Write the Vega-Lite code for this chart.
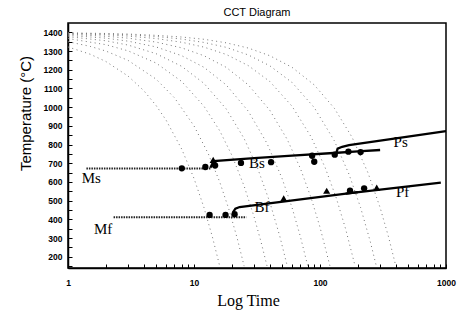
{
  "$schema": "https://vega.github.io/schema/vega-lite/v6.json",
  "autosize": {"type": "none"},
  "padding": {"left": 68, "top": 23, "right": 14, "bottom": 48},
  "width": 378,
  "height": 245,
  "background": "white",
  "title": {"text": "CCT Diagram", "font": "Liberation Sans", "fontSize": 11, "fontWeight": "normal", "color": "black", "offset": 5},
  "config": {
    "view": {"stroke": "black", "strokeWidth": 1.5},
    "axis": {"grid": false, "domainColor": "black", "domainWidth": 1.5, "tickColor": "black", "labelColor": "black", "labelFont": "Liberation Sans", "labelFontSize": 8.5, "labelFontWeight": "bold", "titleColor": "black"}
  },
  "datasets": {
    "cooling": [
      {"curve": "A", "t": 1, "T": 1322}, {"curve": "A", "t": 1.5, "T": 1283}, {"curve": "A", "t": 2, "T": 1244}, {"curve": "A", "t": 3, "T": 1166}, {"curve": "A", "t": 4, "T": 1088}, {"curve": "A", "t": 5, "T": 1009}, {"curve": "A", "t": 6, "T": 931}, {"curve": "A", "t": 8, "T": 775}, {"curve": "A", "t": 10, "T": 619}, {"curve": "A", "t": 12, "T": 463}, {"curve": "A", "t": 14, "T": 306}, {"curve": "A", "t": 16, "T": 150},
      {"curve": "B", "t": 1, "T": 1350}, {"curve": "B", "t": 1.5, "T": 1325}, {"curve": "B", "t": 2, "T": 1300}, {"curve": "B", "t": 3, "T": 1250}, {"curve": "B", "t": 5, "T": 1150}, {"curve": "B", "t": 7, "T": 1050}, {"curve": "B", "t": 10, "T": 900}, {"curve": "B", "t": 13, "T": 750}, {"curve": "B", "t": 16, "T": 600}, {"curve": "B", "t": 19, "T": 450}, {"curve": "B", "t": 22, "T": 300}, {"curve": "B", "t": 25, "T": 150},
      {"curve": "C", "t": 1, "T": 1367}, {"curve": "C", "t": 2, "T": 1334}, {"curve": "C", "t": 3, "T": 1301}, {"curve": "C", "t": 5, "T": 1236}, {"curve": "C", "t": 8, "T": 1137}, {"curve": "C", "t": 12, "T": 1005}, {"curve": "C", "t": 16, "T": 874}, {"curve": "C", "t": 20, "T": 742}, {"curve": "C", "t": 25, "T": 578}, {"curve": "C", "t": 30, "T": 413}, {"curve": "C", "t": 34, "T": 281}, {"curve": "C", "t": 38, "T": 150},
      {"curve": "D", "t": 1, "T": 1377}, {"curve": "D", "t": 2, "T": 1355}, {"curve": "D", "t": 3, "T": 1332}, {"curve": "D", "t": 5, "T": 1286}, {"curve": "D", "t": 8, "T": 1218}, {"curve": "D", "t": 12, "T": 1127}, {"curve": "D", "t": 18, "T": 991}, {"curve": "D", "t": 25, "T": 832}, {"curve": "D", "t": 32, "T": 673}, {"curve": "D", "t": 40, "T": 491}, {"curve": "D", "t": 48, "T": 309}, {"curve": "D", "t": 55, "T": 150},
      {"curve": "E", "t": 1, "T": 1384}, {"curve": "E", "t": 2, "T": 1369}, {"curve": "E", "t": 3, "T": 1353}, {"curve": "E", "t": 5, "T": 1322}, {"curve": "E", "t": 8, "T": 1275}, {"curve": "E", "t": 12, "T": 1213}, {"curve": "E", "t": 18, "T": 1119}, {"curve": "E", "t": 27, "T": 978}, {"curve": "E", "t": 38, "T": 806}, {"curve": "E", "t": 50, "T": 619}, {"curve": "E", "t": 60, "T": 463}, {"curve": "E", "t": 70, "T": 306}, {"curve": "E", "t": 80, "T": 150},
      {"curve": "F", "t": 1, "T": 1390}, {"curve": "F", "t": 2, "T": 1379}, {"curve": "F", "t": 3, "T": 1369}, {"curve": "F", "t": 5, "T": 1348}, {"curve": "F", "t": 8, "T": 1317}, {"curve": "F", "t": 12, "T": 1275}, {"curve": "F", "t": 18, "T": 1213}, {"curve": "F", "t": 27, "T": 1119}, {"curve": "F", "t": 40, "T": 983}, {"curve": "F", "t": 55, "T": 827}, {"curve": "F", "t": 70, "T": 671}, {"curve": "F", "t": 85, "T": 515}, {"curve": "F", "t": 100, "T": 358}, {"curve": "F", "t": 120, "T": 150},
      {"curve": "G", "t": 1, "T": 1393}, {"curve": "G", "t": 2, "T": 1387}, {"curve": "G", "t": 3, "T": 1380}, {"curve": "G", "t": 5, "T": 1367}, {"curve": "G", "t": 8, "T": 1347}, {"curve": "G", "t": 12, "T": 1321}, {"curve": "G", "t": 18, "T": 1282}, {"curve": "G", "t": 27, "T": 1222}, {"curve": "G", "t": 40, "T": 1137}, {"curve": "G", "t": 60, "T": 1005}, {"curve": "G", "t": 85, "T": 841}, {"curve": "G", "t": 110, "T": 676}, {"curve": "G", "t": 135, "T": 512}, {"curve": "G", "t": 160, "T": 347}, {"curve": "G", "t": 190, "T": 150},
      {"curve": "H", "t": 1, "T": 1396}, {"curve": "H", "t": 2, "T": 1391}, {"curve": "H", "t": 3, "T": 1387}, {"curve": "H", "t": 5, "T": 1378}, {"curve": "H", "t": 8, "T": 1364}, {"curve": "H", "t": 12, "T": 1346}, {"curve": "H", "t": 18, "T": 1320}, {"curve": "H", "t": 27, "T": 1279}, {"curve": "H", "t": 40, "T": 1221}, {"curve": "H", "t": 60, "T": 1132}, {"curve": "H", "t": 90, "T": 998}, {"curve": "H", "t": 130, "T": 820}, {"curve": "H", "t": 170, "T": 641}, {"curve": "H", "t": 210, "T": 463}, {"curve": "H", "t": 250, "T": 284}, {"curve": "H", "t": 280, "T": 150},
      {"curve": "I", "t": 1, "T": 1397}, {"curve": "I", "t": 2, "T": 1394}, {"curve": "I", "t": 3, "T": 1391}, {"curve": "I", "t": 5, "T": 1384}, {"curve": "I", "t": 8, "T": 1375}, {"curve": "I", "t": 12, "T": 1363}, {"curve": "I", "t": 18, "T": 1344}, {"curve": "I", "t": 27, "T": 1316}, {"curve": "I", "t": 40, "T": 1275}, {"curve": "I", "t": 60, "T": 1213}, {"curve": "I", "t": 90, "T": 1119}, {"curve": "I", "t": 130, "T": 994}, {"curve": "I", "t": 180, "T": 838}, {"curve": "I", "t": 240, "T": 650}, {"curve": "I", "t": 300, "T": 463}, {"curve": "I", "t": 350, "T": 306}, {"curve": "I", "t": 400, "T": 150}
    ],
    "solid": [
      {"name": "Bs", "t": 13.5, "T": 676}, {"name": "Bs", "t": 14.3, "T": 712}, {"name": "Bs", "t": 30, "T": 727}, {"name": "Bs", "t": 60, "T": 741}, {"name": "Bs", "t": 128, "T": 755}, {"name": "Bs", "t": 200, "T": 764}, {"name": "Bs", "t": 300, "T": 771},
      {"name": "Ps", "t": 135, "T": 757}, {"name": "Ps", "t": 138, "T": 778}, {"name": "Ps", "t": 150, "T": 788}, {"name": "Ps", "t": 170, "T": 797}, {"name": "Ps", "t": 400, "T": 833}, {"name": "Ps", "t": 1000, "T": 872},
      {"name": "Bf", "t": 20.3, "T": 418}, {"name": "Bf", "t": 20.5, "T": 440}, {"name": "Bf", "t": 21.3, "T": 457}, {"name": "Bf", "t": 23, "T": 466}, {"name": "Bf", "t": 200, "T": 546},
      {"name": "Pf", "t": 160, "T": 538}, {"name": "Pf", "t": 910, "T": 596}
    ],
    "dotted": [
      {"name": "Ms", "t": 1.4, "T": 672}, {"name": "Ms", "t": 13.5, "T": 672},
      {"name": "Mf", "t": 2.3, "T": 411}, {"name": "Mf", "t": 26, "T": 411}
    ],
    "circles": [
      {"t": 8, "T": 673}, {"t": 12.3, "T": 680}, {"t": 14.7, "T": 688}, {"t": 23.6, "T": 702}, {"t": 40.9, "T": 706}, {"t": 86.6, "T": 740}, {"t": 90, "T": 708}, {"t": 131, "T": 746}, {"t": 168, "T": 762}, {"t": 210, "T": 760},
      {"t": 13.3, "T": 424}, {"t": 17.8, "T": 424}, {"t": 21, "T": 428},
      {"t": 173, "T": 553}, {"t": 224, "T": 566}
    ],
    "triangles": [
      {"t": 14.2, "T": 718}, {"t": 51.5, "T": 512}, {"t": 113, "T": 553}, {"t": 282, "T": 570}
    ],
    "labels": [
      {"t": 1.53, "T": 619, "label": "Ms"}, {"t": 1.9, "T": 347, "label": "Mf"}, {"t": 31.6, "T": 700, "label": "Bs"}, {"t": 34.7, "T": 465, "label": "Bf"}, {"t": 437, "T": 815, "label": "Ps"}, {"t": 452, "T": 548, "label": "Pf"}
    ]
  },
  "encoding": {
    "x": {"field": "t", "type": "quantitative", "scale": {"type": "log", "domain": [1, 1000], "nice": false},
      "axis": {"title": "Log Time", "titleFont": "Liberation Serif", "titleFontSize": 16, "titleFontWeight": "normal", "titlePadding": 6, "titleX": 180,
        "values": [1, 2, 3, 4, 5, 6, 7, 8, 9, 10, 20, 30, 40, 50, 60, 70, 80, 90, 100, 200, 300, 400, 500, 600, 700, 800, 900, 1000],
        "labelExpr": "indexof([1, 10, 100, 1000], datum.value) >= 0 ? datum.label : ''", "format": "d", "tickSize": -4, "labelPadding": 14, "labelFlush": false, "labelOverlap": false}},
    "y": {"field": "T", "type": "quantitative", "scale": {"domain": [140, 1450], "nice": false, "zero": false},
      "axis": {"title": "Temperature (°C)", "titleFont": "Liberation Sans", "titleFontSize": 15, "titleFontWeight": "normal", "titleY": 90, "titlePadding": 10,
        "values": [150, 200, 250, 300, 350, 400, 450, 500, 550, 600, 650, 700, 750, 800, 850, 900, 950, 1000, 1050, 1100, 1150, 1200, 1250, 1300, 1350, 1400],
        "labelExpr": "datum.value % 100 == 0 ? datum.label : ''", "format": "d", "tickSize": -4, "labelPadding": 10, "labelOverlap": false}}
  },
  "layer": [
    {"data": {"name": "cooling"}, "mark": {"type": "line", "clip": true, "stroke": "#777777", "strokeWidth": 1, "strokeDash": [1, 3.5]}, "encoding": {"detail": {"field": "curve"}}},
    {"data": {"name": "dotted"}, "mark": {"type": "line", "stroke": "#222222", "strokeWidth": 2, "strokeDash": [1.5, 1]}, "encoding": {"detail": {"field": "name"}}},
    {"data": {"name": "solid"}, "mark": {"type": "line", "stroke": "black", "strokeWidth": 2.3}, "encoding": {"detail": {"field": "name"}}},
    {"data": {"name": "circles"}, "mark": {"type": "point", "shape": "circle", "filled": true, "color": "black", "size": 40, "opacity": 1}},
    {"data": {"name": "triangles"}, "mark": {"type": "point", "shape": "triangle-up", "filled": true, "color": "black", "size": 50, "opacity": 1}},
    {"data": {"name": "labels"}, "mark": {"type": "text", "font": "Liberation Serif", "fontSize": 15, "color": "black"}, "encoding": {"text": {"field": "label"}}}
  ]
}
